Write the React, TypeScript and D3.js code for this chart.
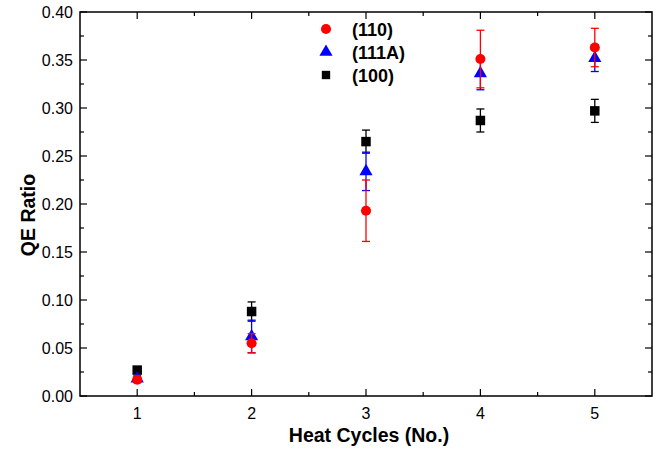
import React, { useEffect, useRef } from "react";
import * as d3 from "d3";

const cycles = [1, 2, 3, 4, 5];
const qe110 = [0.017, 0.055, 0.193, 0.351, 0.363];
const err110 = [0.003, 0.010, 0.032, 0.030, 0.020];
const qe111A = [0.018, 0.062, 0.234, 0.336, 0.352];
const err111A = [0.003, 0.017, 0.020, 0.017, 0.014];
const qe100 = [0.027, 0.088, 0.265, 0.287, 0.297];
const err100 = [0.002, 0.010, 0.012, 0.012, 0.012];
const yTicks = [0, 0.05, 0.1, 0.15, 0.2, 0.25, 0.3, 0.35, 0.4];

function App() {
  const ref = useRef<SVGSVGElement>(null);

  useEffect(() => {
    const svg = d3.select(ref.current);
    svg.selectAll("*").remove();
    const left = 80, right = 652, top = 12, bottom = 396;
    const x = d3.scaleLinear().domain([0.5, 5.5]).range([left, right]);
    const y = d3.scaleLinear().domain([0, 0.4]).range([bottom, top]);
    const font = "Liberation Sans, Arial, sans-serif";

    // frame
    svg.append("rect").attr("x", left).attr("y", top)
      .attr("width", right - left).attr("height", bottom - top)
      .attr("fill", "none").attr("stroke", "black").attr("stroke-width", 1.5);

    const ticks = svg.append("g").attr("stroke", "black").attr("stroke-width", 1.2);
    // x ticks (inward, mirrored on top)
    d3.range(1, 5.01, 0.5).forEach((v) => {
      const len = Number.isInteger(v) ? 7 : 4;
      ticks.append("line").attr("x1", x(v)).attr("x2", x(v)).attr("y1", bottom).attr("y2", bottom - len);
      ticks.append("line").attr("x1", x(v)).attr("x2", x(v)).attr("y1", top).attr("y2", top + len);
    });
    d3.range(0, 0.4001, 0.025).forEach((v, i) => {
      const len = i % 2 === 0 ? 7 : 4;
      ticks.append("line").attr("x1", left).attr("x2", left + len).attr("y1", y(v)).attr("y2", y(v));
      ticks.append("line").attr("x1", right).attr("x2", right - len).attr("y1", y(v)).attr("y2", y(v));
    });

    svg.append("g").selectAll("text").data(cycles).join("text")
      .attr("x", (d) => x(d)).attr("y", 419)
      .attr("text-anchor", "middle").attr("font-family", font).attr("font-size", 16)
      .text((d) => d);
    svg.append("g").selectAll("text").data(yTicks).join("text")
      .attr("x", 73).attr("y", (d) => y(d) + 5.5)
      .attr("text-anchor", "end").attr("font-family", font).attr("font-size", 16)
      .text((d) => d.toFixed(2));

    svg.append("text").attr("x", 369).attr("y", 442)
      .attr("text-anchor", "middle").attr("font-family", font).attr("font-size", 19.5)
      .attr("font-weight", "bold").text("Heat Cycles (No.)");
    svg.append("text").attr("transform", `translate(35,215) rotate(-90)`)
      .attr("text-anchor", "middle").attr("font-family", font).attr("font-size", 19.5)
      .attr("font-weight", "bold").text("QE Ratio");

    const series = [
      { vals: qe100, errs: err100, color: "black", shape: d3.symbolSquare, size: 90 },
      { vals: qe111A, errs: err111A, color: "blue", shape: d3.symbolTriangle, size: 75 },
      { vals: qe110, errs: err110, color: "red", shape: d3.symbolCircle, size: 80 },
    ];

    series.forEach((s) => {
      const g = svg.append("g");
      cycles.forEach((c, i) => {
        const cx = x(c);
        const hi = y(s.vals[i] + s.errs[i]);
        const lo = y(s.vals[i] - s.errs[i]);
        g.append("line").attr("x1", cx).attr("x2", cx).attr("y1", hi).attr("y2", lo)
          .attr("stroke", s.color).attr("stroke-width", 1.3);
        [hi, lo].forEach((yy) => {
          g.append("line").attr("x1", cx - 4).attr("x2", cx + 4).attr("y1", yy).attr("y2", yy)
            .attr("stroke", s.color).attr("stroke-width", 1.3);
        });
        g.append("path").attr("d", d3.symbol().type(s.shape).size(s.size)())
          .attr("transform", `translate(${cx},${y(s.vals[i])})`).attr("fill", s.color);
      });
    });

    // legend
    const legend = [
      { label: "(110)", color: "red", shape: d3.symbolCircle, size: 80 },
      { label: "(111A)", color: "blue", shape: d3.symbolTriangle, size: 75 },
      { label: "(100)", color: "black", shape: d3.symbolSquare, size: 70 },
    ];
    legend.forEach((l, i) => {
      const ly = 29 + i * 23;
      svg.append("path").attr("d", d3.symbol().type(l.shape).size(l.size)())
        .attr("transform", `translate(326,${ly})`).attr("fill", l.color);
      svg.append("text").attr("x", 352).attr("y", ly + 7).attr("font-family", font)
        .attr("font-size", 18).attr("font-weight", "bold").text(l.label);
    });
  }, []);

  return (
    <svg
      ref={ref}
      width={657}
      height={452}
      style={{ display: "block", position: "absolute", left: 0, top: 0, background: "white" }}
    />
  );
}

export default App;
